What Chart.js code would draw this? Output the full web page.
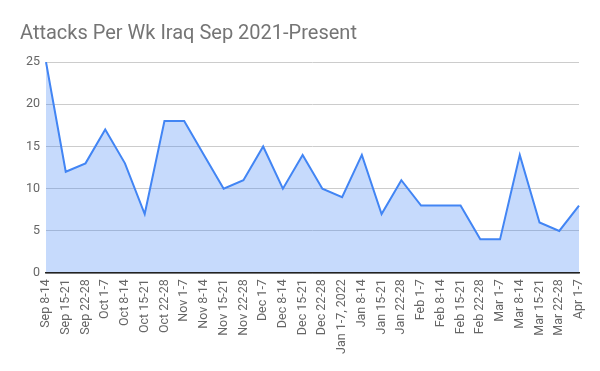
<!DOCTYPE html>
<html>
<head>
<meta charset="utf-8">
<script src="https://cdn.jsdelivr.net/npm/chart.js@4"></script>
<style>
  html, body { margin: 0; padding: 0; background: #fff; }
  #wrap { width: 600px; height: 371px; }
</style>
</head>
<body>
<div id="wrap"><canvas id="chart"></canvas></div>
<script>
'use strict'

// week labels along the x axis
const weeks = [
  'Sep 8-14', 'Sep 15-21', 'Sep 22-28', 'Oct 1-7', 'Oct 8-14', 'Oct 15-21', 'Oct 22-28',
  'Nov 1-7', 'Nov 8-14', 'Nov 15-21', 'Nov 22-28', 'Dec 1-7', 'Dec 8-14', 'Dec 15-21',
  'Dec 22-28', 'Jan 1-7, 2022', 'Jan 8-14', 'Jan 15-21', 'Jan 22-28', 'Feb 1-7', 'Feb 8-14',
  'Feb 15-21', 'Feb 22-28', 'Mar 1-7', 'Mar 8-14', 'Mar 15-21', 'Mar 22-28', 'Apr 1-7'
]

// attacks counted each week
const attacks = [
  25, 12, 13, 17, 13, 7, 18,
  18, 14, 10, 11, 15, 10, 14,
  10, 9, 14, 7, 11, 8, 8,
  8, 4, 4, 14, 6, 5, 8
]

const yTicks = [0, 5, 10, 15, 20, 25]

Chart.defaults.font.family = 'Roboto, Arial, sans-serif'
Chart.defaults.color = '#666'

const ctx = document.getElementById('chart')

const attacksChart = new Chart(ctx, {
  type: 'line',
  data: {
    labels: weeks,
    datasets: [{
      label: 'Attacks',
      data: attacks,
      borderColor: '#4285f4',
      borderWidth: 2,
      backgroundColor: 'rgba(66, 133, 244, 0.3)',
      fill: 'origin',
      pointRadius: 0,
      tension: 0
    }]
  },
  options: {
    responsive: true,
    maintainAspectRatio: false,
    animation: false,
    layout: { padding: { left: 20, right: 11, top: 0, bottom: 11 } },
    plugins: {
      legend: { display: false },
      tooltip: { enabled: false },
      title: {
        display: true,
        text: 'Attacks Per Wk Iraq Sep 2021-Present',
        align: 'start',
        color: '#757575',
        font: { size: 20, weight: 'normal' },
        padding: { top: 22, bottom: 16 }
      }
    },
    scales: {
      x: {
        grid: { display: false, drawTicks: false },
        // z: 1 puts the dark baseline on top of the filled area
        border: { display: true, color: '#222', width: 1.5, z: 1 },
        ticks: {
          autoSkip: false,
          maxRotation: 90,
          minRotation: 90,
          padding: 6,
          font: { size: 12.5 }
        }
      },
      y: {
        min: yTicks[0],
        max: yTicks[yTicks.length - 1],
        afterBuildTicks: axis => { axis.ticks = yTicks.map(v => ({ value: v })) },
        afterFit: axis => { axis.width = 26 }, // keeps plot left edge at x=46
        grid: { drawTicks: false, color: '#ccc' },
        border: { display: false },
        ticks: { padding: 6, font: { size: 12.5 } }
      }
    }
  }
})
</script>
</body>
</html>
